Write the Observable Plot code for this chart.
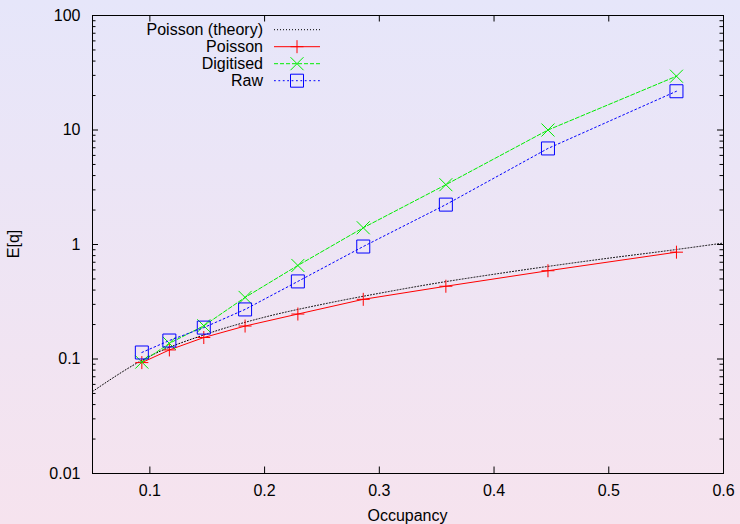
<!DOCTYPE html>
<html><head><meta charset="utf-8">
<script src="https://cdn.jsdelivr.net/npm/d3@7"></script>
<script src="https://cdn.jsdelivr.net/npm/@observablehq/plot@0.6"></script>
<style>
html,body{margin:0;padding:0;background:#ece7f5;}
#chart{width:740px;height:524px;}
</style></head><body><div id="chart"></div>
<script>
// ---- data ----
const occupancy = [0.093, 0.117, 0.147, 0.183, 0.229, 0.286, 0.358, 0.447, 0.559];
const poisson   = [0.093, 0.12, 0.154, 0.194, 0.247, 0.332, 0.432, 0.59, 0.857];
const digitised = [0.094, 0.137, 0.195, 0.345, 0.656, 1.40, 3.33, 10.0, 29.5];
const raw       = [0.114, 0.145, 0.188, 0.271, 0.476, 0.96, 2.23, 6.9, 21.8];
const theoryX   = [0.05, 0.1, 0.15, 0.2, 0.25, 0.3, 0.35, 0.4, 0.45, 0.5, 0.55, 0.6];
const theoryY   = [0.052, 0.106, 0.166, 0.232, 0.30, 0.375, 0.46, 0.55, 0.65, 0.76, 0.88, 1.03];
const xTicks = [0.1, 0.2, 0.3, 0.4, 0.5, 0.6];
const xTickLabels = ["0.1", "0.2", "0.3", "0.4", "0.5", "0.6"];
const yTicks = [0.01, 0.1, 1, 10, 100];
const yTickLabels = ["0.01", "0.1", "1", "10", "100"];
const seriesNames = ["Poisson (theory)", "Poisson", "Digitised", "Raw"];
const xLabel = "Occupancy";
const yLabel = "E[q]";

// ---- layout / style ----
const W = 740, H = 524, mL = 92, mR = 17, mT = 15, mB = 51;
const fw = W - mL - mR, fh = H - mT - mB;
const FONT = "'Liberation Sans', Arial, Helvetica, sans-serif";
const styles = [
  {stroke: "#000000", dash: "1,2", sym: null},
  {stroke: "#ff0000", dash: null, sym: "plus"},
  {stroke: "#00ee00", dash: "4,2", sym: "times"},
  {stroke: "#0000ff", dash: "1.8,2.6", sym: "square"}
];
const H_SYM = 6.5;
const symbols = {
  plus: {draw(c) { const h = H_SYM; c.moveTo(-h, 0); c.lineTo(h, 0); c.moveTo(0, -h); c.lineTo(0, h); }},
  times: {draw(c) { const h = H_SYM; c.moveTo(-h, -h); c.lineTo(h, h); c.moveTo(-h, h); c.lineTo(h, -h); }},
  square: {draw(c) { const h = H_SYM; c.moveTo(-h, -h); c.lineTo(h, -h); c.lineTo(h, h); c.lineTo(-h, h); c.closePath(); }}
};

const pts = occupancy.map((x, i) => ({x, poisson: poisson[i], digitised: digitised[i], raw: raw[i]}));
const theory = theoryX.map((x, i) => ({x, y: theoryY[i]}));

const minorY = [];
for (const dec of [0.01, 0.1, 1, 10]) for (let k = 2; k <= 9; k++) minorY.push(k * dec);

const seriesKeys = [null, "poisson", "digitised", "raw"];
const seriesMarks = [];
seriesMarks.push(Plot.line(theory, {x: "x", y: "y", stroke: styles[0].stroke, strokeWidth: 1, strokeDasharray: styles[0].dash, curve: "monotone-x"}));
for (let s = 1; s < 4; s++) {
  const k = seriesKeys[s], st = styles[s];
  seriesMarks.push(Plot.line(pts, {x: "x", y: k, stroke: st.stroke, strokeWidth: 1, strokeDasharray: st.dash}));
  seriesMarks.push(Plot.dot(pts, {x: "x", y: k, symbol: symbols[st.sym], r: 5, stroke: st.stroke, fill: "none", strokeWidth: 1}));
}

const plot = Plot.plot({
  width: W, height: H,
  marginLeft: mL, marginRight: mR, marginTop: mT, marginBottom: mB,
  style: {background: "linear-gradient(to bottom, #e6e6fa, #f6e3ee)", fontFamily: FONT, fontSize: "16px", color: "#000"},
  x: {domain: [0.05, 0.6], ticks: xTicks, tickSize: 0, tickPadding: 11, tickFormat: d => xTickLabels[xTicks.indexOf(d)], label: null},
  y: {type: "log", domain: [0.01, 100], ticks: yTicks, tickSize: 0, tickPadding: 12, tickFormat: d => yTickLabels[yTicks.indexOf(d)], label: null},
  marks: [
    ...seriesMarks,
    Plot.tickX(xTicks, {x: d => d, insetTop: fh - 6.5, stroke: "#000"}),
    Plot.tickX(xTicks, {x: d => d, insetBottom: fh - 6.5, stroke: "#000"}),
    Plot.tickY(yTicks, {y: d => d, insetRight: fw - 6, stroke: "#000"}),
    Plot.tickY(yTicks, {y: d => d, insetLeft: fw - 6, stroke: "#000"}),
    Plot.tickY(minorY, {y: d => d, insetRight: fw - 3.5, stroke: "#000"}),
    Plot.tickY(minorY, {y: d => d, insetLeft: fw - 3.5, stroke: "#000"}),
    Plot.frame({stroke: "#000", strokeWidth: 1})
  ]
});

const svg = d3.select(plot);
// axis titles
svg.append("text").attr("x", mL + fw / 2).attr("y", 520.5).attr("text-anchor", "middle")
  .attr("font-family", FONT).attr("font-size", 16).attr("fill", "#000").text(xLabel);
svg.append("text").attr("transform", `translate(18.5,${mT + fh / 2}) rotate(-90)`).attr("text-anchor", "middle")
  .attr("font-family", FONT).attr("font-size", 16).attr("fill", "#000").text(yLabel);

// legend (inside the frame, top-left)
const lg = svg.append("g").attr("font-family", FONT).attr("font-size", 16).attr("fill", "#000");
seriesNames.forEach((name, i) => {
  const st = styles[i];
  const cy = 29.7 + 17 * i;
  lg.append("text").attr("x", 263).attr("y", cy + 5.6).attr("text-anchor", "end").text(name);
  lg.append("line").attr("x1", 274).attr("x2", 320).attr("y1", cy).attr("y2", cy)
    .attr("stroke", st.stroke).attr("stroke-width", 1).attr("stroke-dasharray", st.dash);
  if (st.sym) {
    const p = d3.path();
    symbols[st.sym].draw(p);
    lg.append("path").attr("d", p.toString()).attr("transform", `translate(297,${cy})`)
      .attr("fill", "none").attr("stroke", st.stroke).attr("stroke-width", 1);
  }
});

document.getElementById("chart").appendChild(plot);
</script>
</body></html>
